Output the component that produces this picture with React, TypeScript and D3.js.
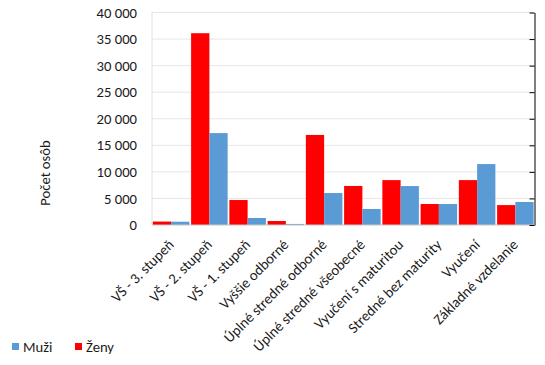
import React, { useRef, useEffect } from 'react'
import * as d3 from 'd3'

const categories = [
  'VŠ - 3. stupeň',
  'VŠ - 2. stupeň',
  'VŠ - 1. stupeň',
  'Vyššie odborné',
  'Úplné stredné odborné',
  'Úplné stredné všeobecné',
  'Vyučení s maturitou',
  'Stredné bez maturity',
  'Vyučení',
  'Základné vzdelanie',
]
const zeny = [650, 36100, 4700, 750, 16950, 7350, 8450, 3950, 8450, 3750]
const muzi = [620, 17300, 1320, 200, 6020, 3010, 7330, 3950, 11470, 4330]
const yTicks = [0, 5000, 10000, 15000, 20000, 25000, 30000, 35000, 40000]

const W = 545, H = 365
const FONT = "Carlito, 'Open Sans', sans-serif"
const FS = 14.67
const RED = '#ff0000', BLUE = '#5b9bd5'

export default function App() {
  const ref = useRef<SVGSVGElement>(null)

  useEffect(() => {
    const svg = d3.select(ref.current)
    svg.selectAll('*').remove()

    const m = { top: 12.5, right: 10.5, bottom: 140, left: 152 }
    const x = d3.scaleBand().domain(categories).range([m.left, W - m.right]).paddingInner(0.045).paddingOuter(0.0225)
    const sub = d3.scaleBand().domain(['z', 'm']).range([0, x.bandwidth()])
    const y = d3.scaleLinear().domain([0, 40000]).range([H - m.bottom, m.top])
    const fmt = d3.formatLocale({ decimal: ',', thousands: ' ', grouping: [3], currency: ['', ''] }).format(',')

    // grid
    svg.append('g').selectAll('line').data(yTicks.slice(1)).join('line')
      .attr('x1', m.left).attr('x2', W - m.right)
      .attr('y1', d => y(d)).attr('y2', d => y(d))
      .attr('stroke', '#e6e6e6').attr('stroke-width', 1)
    svg.append('line').attr('x1', m.left).attr('x2', m.left).attr('y1', y(40000)).attr('y2', y(0))
      .attr('stroke', '#e0e0e0')

    // y labels
    svg.append('g').selectAll('text').data(yTicks).join('text')
      .attr('x', 137).attr('y', d => y(d)).attr('dy', '0.35em')
      .attr('text-anchor', 'end').attr('font-size', FS).attr('font-family', FONT).attr('fill', '#1a1a1a')
      .text(d => fmt(d))

    // bars
    const g = svg.append('g').selectAll('g').data(categories).join('g')
      .attr('transform', d => `translate(${x(d)},0)`)
    g.append('rect').attr('x', sub('z')!).attr('width', sub.bandwidth())
      .attr('y', (_, i) => y(zeny[i])).attr('height', (_, i) => y(0) - y(zeny[i])).attr('fill', RED)
    g.append('rect').attr('x', sub('m')!).attr('width', sub.bandwidth())
      .attr('y', (_, i) => y(muzi[i])).attr('height', (_, i) => y(0) - y(muzi[i])).attr('fill', BLUE)

    // bottom axis line
    svg.append('line').attr('x1', m.left).attr('x2', W - m.right).attr('y1', y(0)).attr('y2', y(0))
      .attr('stroke', '#c8c8c8')

    // right axis, no labels
    const ra = svg.append('g').attr('transform', `translate(${W - m.right},0)`)
      .call(d3.axisRight(y).tickValues(yTicks).tickSizeInner(-5).tickSizeOuter(0).tickFormat(() => ''))
    ra.selectAll('path, line').attr('stroke', '#000')

    // category labels
    svg.append('g').selectAll('text').data(categories).join('text')
      .attr('transform', d => `translate(${x(d)! + x.bandwidth() / 2},${y(0) + 17}) rotate(-45)`)
      .attr('text-anchor', 'end').attr('dy', '0.35em')
      .attr('font-size', FS).attr('font-family', FONT).attr('fill', '#1a1a1a')
      .text(d => d)

    // y title
    svg.append('text').attr('transform', 'translate(50,173) rotate(-90)')
      .attr('text-anchor', 'middle').attr('font-size', FS).attr('font-family', FONT).attr('fill', '#1a1a1a')
      .text('Počet osôb')

    // legend
    const leg = [{ k: 'Muži', c: BLUE, x: 12 }, { k: 'Ženy', c: RED, x: 75 }]
    const lg = svg.append('g').selectAll('g').data(leg).join('g').attr('transform', d => `translate(${d.x},343)`)
    lg.append('rect').attr('width', 7).attr('height', 7).attr('fill', d => d.c)
    lg.append('text').attr('x', 11).attr('y', 3.5).attr('dy', '0.35em')
      .attr('font-size', FS).attr('font-family', FONT).attr('fill', '#1a1a1a').text(d => d.k)
  }, [])

  return <svg ref={ref} width={W} height={H} style={{ position: 'absolute', left: 0, top: 0, background: '#fff' }} />
}
